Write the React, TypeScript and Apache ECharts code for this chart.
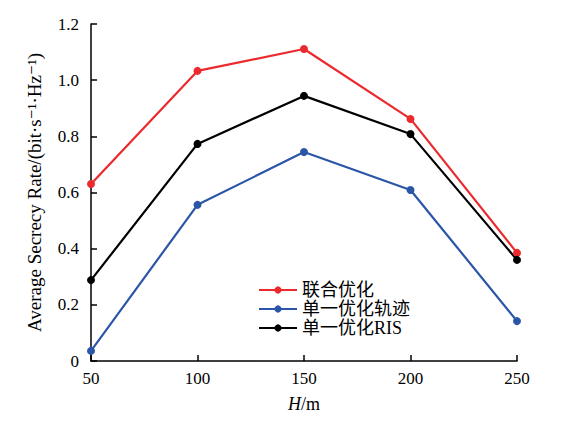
import React, { useEffect, useRef } from "react";
import * as echarts from "echarts";

const heights = [50, 100, 150, 200, 250];
const jointOpt = [0.63, 1.033, 1.111, 0.862, 0.385];
const trajOnly = [0.036, 0.556, 0.744, 0.609, 0.142];
const risOnly = [0.288, 0.773, 0.944, 0.808, 0.36];
const seriesNames = ["联合优化", "单一优化轨迹", "单一优化RIS"];
const seriesColors = ["#ec2a2e", "#2b56a8", "#000000"];

const serif = "'Liberation Serif', 'DejaVu Serif', serif";
const cjk = "'Liberation Serif', 'Noto Sans CJK SC', serif";

export default function App() {
  const ref = useRef<HTMLDivElement>(null);
  useEffect(() => {
    document.body.style.margin = "0";
    const chart = echarts.init(ref.current!, null, { renderer: "svg" });
    const all = [jointOpt, trajOnly, risOnly];
    chart.setOption({
      animation: false,
      backgroundColor: "#ffffff",
      grid: { left: 91, right: 55, top: 24, bottom: 60 },
      legend: {
        orient: "vertical",
        left: 253,
        top: 276,
        itemWidth: 38,
        itemHeight: 9,
        itemGap: 1,
        textStyle: { fontFamily: cjk, fontSize: 18, color: "#000" },
        data: seriesNames,
      },
      xAxis: {
        type: "value",
        min: 50,
        max: 250,
        interval: 50,
        name: "{i|H}/m",
        nameLocation: "middle",
        nameGap: 34,
        nameTextStyle: {
          fontFamily: serif,
          fontSize: 18,
          color: "#000",
          rich: {
            i: { fontFamily: serif, fontStyle: "italic", fontSize: 18, color: "#000" },
          },
        },
        axisLine: { lineStyle: { color: "#000", width: 1.5 } },
        axisTick: { inside: true, length: 6, lineStyle: { color: "#000", width: 1.5 } },
        axisLabel: { fontFamily: serif, fontSize: 17, color: "#000", margin: 9 },
        splitLine: { show: false },
      },
      yAxis: {
        type: "value",
        min: 0,
        max: 1.2,
        interval: 0.2,
        name: "Average Secrecy Rate/(bit·s⁻¹·Hz⁻¹)",
        nameLocation: "middle",
        nameGap: 47,
        nameTextStyle: { fontFamily: serif, fontSize: 19, color: "#000" },
        axisLine: { show: true, lineStyle: { color: "#000", width: 1.5 } },
        axisTick: { show: true, inside: true, length: 6, lineStyle: { color: "#000", width: 1.5 } },
        axisLabel: {
          fontFamily: serif,
          fontSize: 17,
          color: "#000",
          margin: 12,
          formatter: (v: number) => (v === 0 ? "0" : v.toFixed(1)),
        },
        splitLine: { show: false },
      },
      series: seriesNames.map((name, k) => ({
        name,
        type: "line",
        data: heights.map((h, i) => [h, all[k][i]]),
        symbol: "circle",
        symbolSize: 8,
        lineStyle: { width: 2.2, color: seriesColors[k] },
        itemStyle: { color: seriesColors[k] },
      })),
    });
    return () => chart.dispose();
  }, []);
  return (
    <div
      ref={ref}
      style={{ position: "absolute", left: 0, top: 0, width: 572, height: 421 }}
    />
  );
}
